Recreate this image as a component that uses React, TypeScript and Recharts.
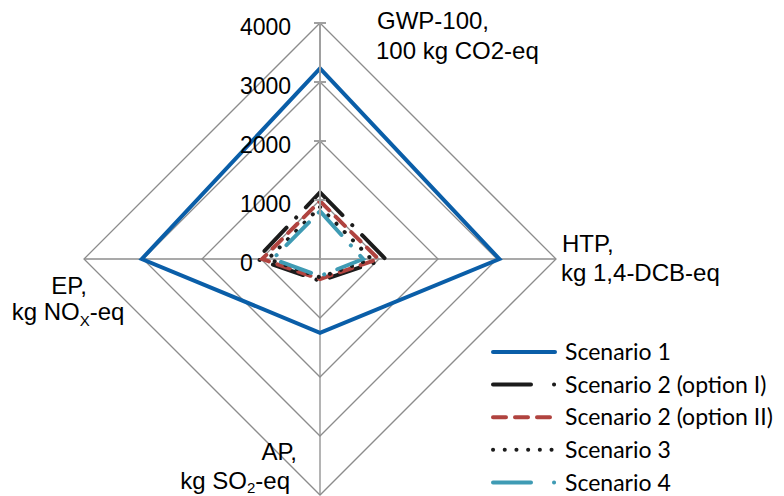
import { RadarChart, Radar, PolarGrid, PolarAngleAxis, PolarRadiusAxis, Legend } from "recharts";

const categories = ["GWP", "HTP", "AP", "EP"];
const scenario1 = [3230, 3040, 1250, 3020];
const scenario2I = [1130, 1110, 370, 1070];
const scenario2II = [980, 990, 340, 980];
const scenario3 = [880, 870, 310, 880];
const scenario4 = [810, 730, 290, 800];
const seriesNames = ["Scenario 1", "Scenario 2 (option I)", "Scenario 2 (option II)", "Scenario 3", "Scenario 4"];

const data = categories.map((c, i) => ({
  cat: c,
  s1: scenario1[i],
  s2a: scenario2I[i],
  s2b: scenario2II[i],
  s3: scenario3[i],
  s4: scenario4[i],
}));

const FONT = "'Liberation Sans', Arial, sans-serif";
const CX = 320;
const CY = 259;
const R = 236;

const series = [
  { key: "s1", name: seriesNames[0], color: "#0a5ea8", dash: undefined as string | undefined, legendDash: undefined as string | undefined },
  { key: "s2a", name: seriesNames[1], color: "#1c1c1c", dash: "32 14 0.1 14", legendDash: "38 23 0.1 23" },
  { key: "s2b", name: seriesNames[2], color: "#b0433f", dash: "13 9", legendDash: "13 9" },
  { key: "s3", name: seriesNames[3], color: "#1c1c1c", dash: "0.1 11.6", legendDash: "0.1 11.6" },
  { key: "s4", name: seriesNames[4], color: "#3f9bb4", dash: "32 14 0.1 14", legendDash: "38 23 0.1 23" },
];

// label text per category, offsets relative to the axis end point
const catLabels: Record<string, { lines: { t: any; dx: number; dy: number }[]; anchor: string }> = {
  GWP: {
    anchor: "start",
    lines: [
      { t: "GWP-100,", dx: 57, dy: -3 },
      { t: "100 kg CO2-eq", dx: 56, dy: 27 },
    ],
  },
  HTP: {
    anchor: "start",
    lines: [
      { t: "HTP,", dx: 6, dy: -16 },
      { t: "kg 1,4-DCB-eq", dx: 5, dy: 13 },
    ],
  },
  AP: {
    anchor: "end",
    lines: [
      { t: "AP,", dx: -23, dy: -44 },
      { t: <>kg SO<tspan fontSize={15} dy={4}>2</tspan><tspan dy={-4}>-eq</tspan></>, dx: -30, dy: -15 },
    ],
  },
  EP: {
    anchor: "middle",
    lines: [
      { t: "EP,", dx: -15, dy: 26 },
      { t: <>kg NO<tspan fontSize={15} dy={6}>X</tspan><tspan dy={-6}>-eq</tspan></>, dx: -16, dy: 52 },
    ],
  },
};

function AngleTick(props: any) {
  const { payload } = props;
  const lab = catLabels[payload.value];
  if (!lab) return null;
  const rad = (-payload.coordinate * Math.PI) / 180;
  const x = CX + R * Math.cos(rad);
  const y = CY + R * Math.sin(rad);
  return (
    <g>
      {lab.lines.map((l, i) => (
        <text key={i} x={x + l.dx} y={y + l.dy} dy="0.36em" textAnchor={lab.anchor as any}
          fontSize={24} fontFamily={FONT} fill="#000">
          {l.t}
        </text>
      ))}
    </g>
  );
}

function makeRadiusTick(vertical: boolean, showLabel: boolean) {
  return (props: any) => {
    const { x, y, payload } = props;
    return (
      <g>
        {payload.value !== 0 && (vertical
          ? <line x1={x - 6} x2={x + 6} y1={y} y2={y} stroke="#a0a0a0" strokeWidth={2} />
          : <line x1={x} x2={x} y1={y - 6} y2={y + 6} stroke="#a0a0a0" strokeWidth={2} />)}
        {showLabel && (
          <text x={x - 80} y={y + 4} dy="0.36em" textAnchor="start" fontSize={23} fontFamily={FONT} fill="#000">
            {payload.value}
          </text>
        )}
      </g>
    );
  };
}

function renderLegend() {
  return (
    <svg width={296} height={170}>
      {series.map((s, i) => {
        const y = 16 + i * 32.6;
        return (
          <g key={s.key}>
            <line x1={5} x2={67} y1={y} y2={y} stroke={s.color} strokeWidth={4}
              strokeDasharray={s.legendDash} strokeLinecap="round" />
            <text x={77} y={y} dy="0.36em" fontSize={23} fontFamily="Lato, sans-serif" fill="#000">
              {s.name}
            </text>
          </g>
        );
      })}
    </svg>
  );
}

export default function App() {
  return (
    <div style={{ position: "absolute", left: 0, top: 0, width: 784, height: 496, background: "#fff" }}>
      <RadarChart width={784} height={496} data={data} cx={CX} cy={CY} outerRadius={R}
        margin={{ top: 0, right: 0, bottom: 0, left: 0 }}>
        <PolarGrid gridType="polygon" stroke="#8c8c8c" strokeWidth={1.3} />
        <PolarAngleAxis dataKey="cat" tick={<AngleTick />} tickLine={false} axisLine={false} tickSize={0} />
        <PolarRadiusAxis angle={90} domain={[0, 4000]} tickCount={5} type="number"
          axisLine={{ stroke: "#a0a0a0", strokeWidth: 2 }} tick={makeRadiusTick(true, true)} />
        <PolarRadiusAxis radiusAxisId={1} angle={0} domain={[0, 4000]} tickCount={5} type="number"
          axisLine={{ stroke: "#a0a0a0", strokeWidth: 2 }} tick={makeRadiusTick(false, false)} />
        <PolarRadiusAxis radiusAxisId={2} angle={-90} domain={[0, 4000]} tickCount={5} type="number"
          axisLine={{ stroke: "#a0a0a0", strokeWidth: 2 }} tick={makeRadiusTick(true, false)} />
        <PolarRadiusAxis radiusAxisId={3} angle={180} domain={[0, 4000]} tickCount={5} type="number"
          axisLine={{ stroke: "#a0a0a0", strokeWidth: 2 }} tick={makeRadiusTick(false, false)} />
        {series.map((s) => (
          <Radar key={s.key} name={s.name} dataKey={s.key} stroke={s.color} strokeWidth={4}
            fill="none" fillOpacity={0} strokeDasharray={s.dash}
            strokeLinecap={s.dash ? "round" : "butt"} strokeLinejoin="miter"
            dot={false} isAnimationActive={false} />
        ))}
        <Legend content={renderLegend} wrapperStyle={{ position: "absolute", left: 488, top: 336, width: 296 }} />
      </RadarChart>
    </div>
  );
}
